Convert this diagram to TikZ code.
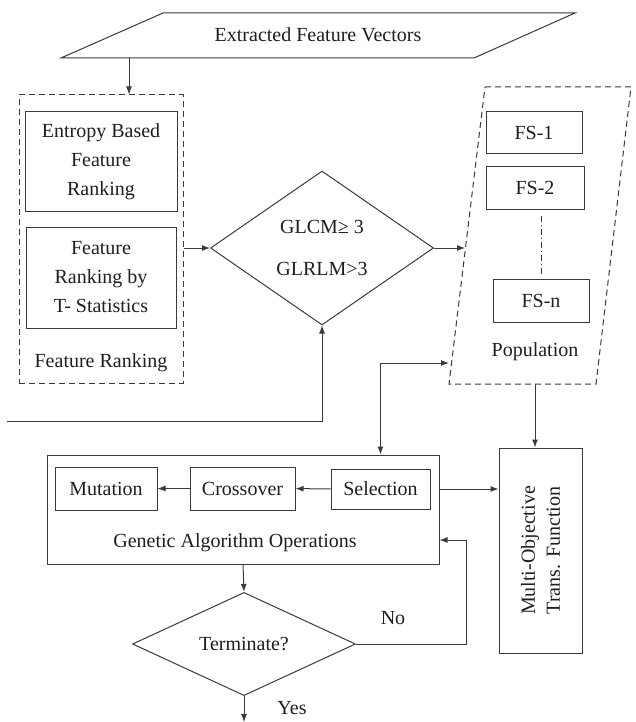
\documentclass[tikz,border=0pt]{standalone}
\usepackage{fontspec}
\setmainfont{Liberation Serif}
\usetikzlibrary{positioning, shapes, arrows.meta, calc}
\definecolor{linegray}{HTML}{3A3A3A}
\definecolor{textgray}{HTML}{1E1E1E}

\begin{document}
\begin{tikzpicture}[x=1pt, y=-1pt, line width=1pt, color=linegray, text=textgray,
    font=\fontsize{20}{29}\selectfont,
    >={Latex[length=8pt, width=6pt]},
    box/.style={rectangle, draw, inner sep=0pt, align=center},
    decision/.style={diamond, draw, inner sep=0pt, align=center},
    group/.style={dash pattern=on 6pt off 4pt},
    lbl/.style={inner sep=0pt, align=center}]
    \useasboundingbox (0,0) rectangle (635,722);

    % Nodes
    \draw (61,58) -- (163,13) -- (575,13) -- (474,58) -- cycle;
    \node[lbl] (features) at (318,35) {Extracted Feature Vectors};
    \coordinate (featout) at (129,58);

    \node[box, group, minimum width=164, minimum height=288] (ranking) at (101,239) {};
    \node[box, minimum width=152, minimum height=99] (entropy) at (101,161.5) {Entropy Based\\Feature\\Ranking};
    \node[box, minimum width=150, minimum height=101] (tstat) at (101,277.5) {Feature\\Ranking by\\T- Statistics};
    \node[lbl] (rankinglbl) at (101,363) {Feature Ranking};

    \node[decision, minimum width=223, minimum height=154] (glcm) at (322,248) {GLCM≥ 3\\[13pt]GLRLM>3};

    \draw[group] (485,87) -- (631,87) -- (596,384) -- (449,384) -- cycle;
    \coordinate (popin) at (465,248);
    \coordinate (popback) at (449,363);
    \coordinate (popout) at (535,384);
    \node[box, minimum width=96, minimum height=42] (fs1) at (534,133) {FS-1};
    \node[box, minimum width=98, minimum height=42] (fs2) at (535,188) {FS-2};
    \node[box, minimum width=96, minimum height=43] (fsn) at (541,300.5) {FS-n};
    \node[lbl] (poplbl) at (535,352) {Population};

    \node[box, minimum width=392, minimum height=109] (ga) at (243,509.5) {};
    \node[box, minimum width=102, minimum height=43] (mutation) at (106,488.5) {Mutation};
    \node[box, minimum width=105, minimum height=43] (crossover) at (242.5,488.5) {Crossover};
    \node[box, minimum width=99, minimum height=40] (selection) at (380.5,489) {Selection};
    \node[lbl] (galbl) at (235,543) {Genetic Algorithm Operations};

    \node[box, minimum width=83, minimum height=205] (mo) at (540.5,550.5) {};
    \node[lbl, rotate=90] (molbl) at (mo) {Multi-Objective\\[-4pt]Trans. Function};

    \node[decision, minimum width=223, minimum height=82] (term) at (244,644) {Terminate?};
    \node[lbl] (nolbl) at (393,618) {No};
    \node[lbl] (yeslbl) at (292,708) {Yes};
    \coordinate (stop) at (244,722);
    \coordinate (back) at (7,421);
    \coordinate (loop) at (466,540);

    % Arrows
    \draw[->] (featout) -- (featout |- ranking.north);
    \draw[->] (ranking.east |- glcm.west) -- (glcm.west);
    \draw[->] (glcm.east) -- (popin);
    \draw[->] (back) -| (glcm.south);
    \draw[dash pattern=on 6pt off 3pt on 1pt off 3pt, line width=0.7pt, shorten <=6pt, shorten >=4pt] (fsn.north |- fs2.south) -- (fsn.north);
    \draw[<->] (popback) -| (selection |- ga.north);
    \draw[->] (popout) -- (popout |- mo.north);
    \foreach \a/\b in {selection/crossover, crossover/mutation}
    \draw[->] (\a) -- (\b);
    \draw[->] (ga.east |- selection) -- (mo.west |- selection);
    \draw[->] (ga.south) -- (term.north);
    \draw[->] (term.east) -| (loop) -- (ga.east |- loop);
    \draw[->] (term.south) -- (stop);
\end{tikzpicture}
\end{document}
